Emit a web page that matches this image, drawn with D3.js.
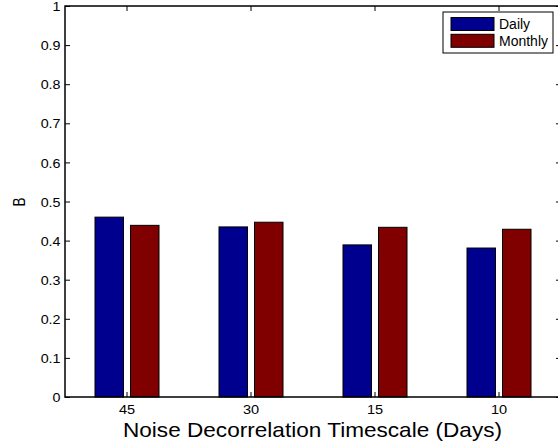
<!DOCTYPE html>
<html>
<head>
<meta charset="utf-8">
<script src="https://cdn.jsdelivr.net/npm/d3@7"></script>
<style>
  html, body { margin: 0; padding: 0; background: #fff; }
  svg { display: block; }
  text { font-family: "Liberation Sans", Arial, Helvetica, sans-serif; fill: #000; }
</style>
</head>
<body>
<svg id="chart" width="558" height="448"></svg>
<script>
// Grouped bars of B for each noise decorrelation timescale
const categories = ["45", "30", "15", "10"];
const seriesNames = ["Daily", "Monthly"];
const dailyValues = [0.460, 0.435, 0.389, 0.381];
const monthlyValues = [0.439, 0.447, 0.434, 0.429];
const yTickValues = [0, 0.1, 0.2, 0.3, 0.4, 0.5, 0.6, 0.7, 0.8, 0.9, 1];
const yTickLabels = ["0", "0.1", "0.2", "0.3", "0.4", "0.5", "0.6", "0.7", "0.8", "0.9", "1"];
const xLabel = "Noise Decorrelation Timescale (Days)";
const yLabel = "B";

const colors = { Daily: "#00008f", Monthly: "#800000" };
const seriesValues = { Daily: dailyValues, Monthly: monthlyValues };

const svg = d3.select("#chart");
const plotLeft = 65, plotRight = 561, plotTop = 6, plotBottom = 397;

const x = d3.scaleBand().domain(categories).range([plotLeft, plotRight]).paddingInner(0).paddingOuter(0);
const xInner = d3.scaleBand().domain(seriesNames).range([-32, 32]).paddingInner(0.197).paddingOuter(0);
const y = d3.scaleLinear().domain([0, 1]).range([plotBottom, plotTop]);

const center = c => x(c) + x.bandwidth() / 2;

// bars
const groups = svg.append("g").selectAll("g")
  .data(categories)
  .join("g")
  .attr("transform", c => `translate(${center(c)},0)`);

groups.selectAll("rect")
  .data((c, i) => seriesNames.map(s => ({ s, v: seriesValues[s][i] })))
  .join("rect")
  .attr("x", d => xInner(d.s))
  .attr("width", xInner.bandwidth())
  .attr("y", d => y(d.v))
  .attr("height", d => y(0) - y(d.v))
  .attr("fill", d => colors[d.s])
  .attr("stroke", "#000")
  .attr("stroke-width", 1);

// left axis (ticks pointing inward)
const yAxis = d3.axisLeft(y)
  .tickValues(yTickValues)
  .tickFormat((d, i) => yTickLabels[i])
  .tickSizeInner(-5)
  .tickSizeOuter(0)
  .tickPadding(5);
const gy = svg.append("g").attr("transform", `translate(${plotLeft},0)`).call(yAxis);
gy.select(".domain").remove();
gy.attr("font-family", null).attr("font-size", null);
gy.selectAll("line").attr("stroke", "#000");
gy.selectAll("text")
  .attr("x", 0)
  .attr("dy", "0.36em")
  .attr("transform", "translate(-4.5,0) scale(1.1,1)")
  .style("font-size", "13px");

// right axis ticks (no labels)
const gyR = svg.append("g").attr("transform", `translate(${plotRight},0)`)
  .call(d3.axisRight(y).tickValues(yTickValues).tickSizeInner(-5).tickSizeOuter(0).tickFormat(""));
gyR.select(".domain").remove();
gyR.selectAll("line").attr("stroke", "#000");

// bottom axis
const gx = svg.append("g").attr("transform", `translate(0,${plotBottom})`)
  .call(d3.axisBottom(x).tickSizeInner(-5).tickSizeOuter(0).tickPadding(7));
gx.select(".domain").remove();
gx.attr("font-family", null).attr("font-size", null);
gx.selectAll("line").attr("stroke", "#000");
gx.selectAll("text")
  .attr("y", 0)
  .attr("dy", 0)
  .attr("transform", "translate(0,16.7) scale(1.12,1)")
  .style("font-size", "13px");

// top axis ticks
const gxT = svg.append("g").attr("transform", `translate(0,${plotTop})`)
  .call(d3.axisTop(x).tickSizeInner(-5).tickSizeOuter(0).tickFormat(""));
gxT.select(".domain").remove();
gxT.selectAll("line").attr("stroke", "#000");

// axes box
svg.append("rect")
  .attr("x", plotLeft).attr("y", plotTop)
  .attr("width", plotRight - plotLeft).attr("height", plotBottom - plotTop)
  .attr("fill", "none").attr("stroke", "#000").attr("stroke-width", 1.5);

// axis labels
svg.append("text")
  .attr("transform", `translate(${(plotLeft + plotRight) / 2 - 0.5},437) scale(1.13,1)`)
  .attr("text-anchor", "middle")
  .style("font-size", "20px")
  .text(xLabel);

svg.append("text")
  .attr("transform", `translate(24.5,${(plotTop + plotBottom) / 2 + 0.5}) scale(1,0.8) rotate(-90)`)
  .attr("text-anchor", "middle")
  .style("font-size", "17px")
  .text(yLabel);

// legend
const legend = svg.append("g");
legend.append("rect")
  .attr("x", 443).attr("y", 12).attr("width", 110).attr("height", 41)
  .attr("fill", "#fff").attr("stroke", "#000").attr("stroke-width", 1);
const item = legend.selectAll("g.item")
  .data(seriesNames)
  .join("g")
  .attr("class", "item")
  .attr("transform", (d, i) => `translate(451,${17.5 + i * 16.8})`);
item.append("rect")
  .attr("width", 43).attr("height", 13)
  .attr("fill", d => colors[d]).attr("stroke", "#000").attr("stroke-width", 1);
item.append("text")
  .attr("x", 48).attr("y", 11.5)
  .style("font-size", "14px")
  .text(d => d);
</script>
</body>
</html>
